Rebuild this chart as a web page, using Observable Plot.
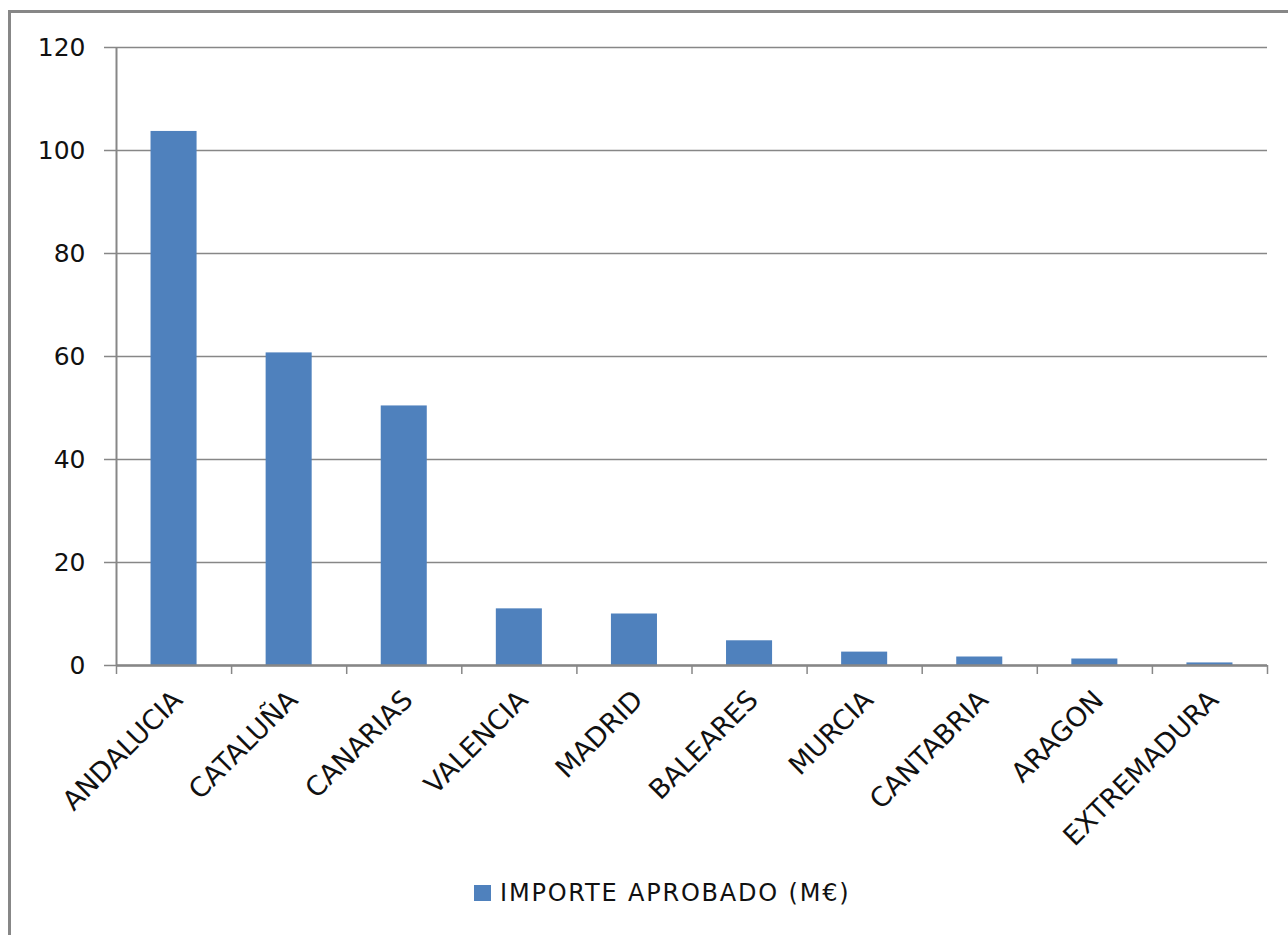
<!DOCTYPE html>
<html>
<head>
<meta charset="utf-8">
<script src="https://cdn.jsdelivr.net/npm/d3@7"></script>
<script src="https://cdn.jsdelivr.net/npm/@observablehq/plot@0.6"></script>
<style>
  html, body { margin: 0; padding: 0; background: #fff; width: 1288px; height: 935px; overflow: hidden; }
  #frame { position: absolute; left: 8px; top: 10px; width: 1400px; height: 1000px;
           border-left: 3px solid #878787; border-top: 3px solid #878787; }
  #chart { position: absolute; left: 0; top: 0; }
  #legend { position: absolute; left: 474px; top: 879px; font-family: "DejaVu Sans", sans-serif;
            font-size: 24px; letter-spacing: 1.8px; color: #111; display: flex; align-items: center; white-space: nowrap; }
  #legend .sw { width: 17px; height: 16px; background: #4F81BD; margin-right: 9px; }
</style>
</head>
<body>
<div id="frame"></div>
<div id="chart"></div>
<div id="legend"><span class="sw"></span><span id="legtext"></span></div>
<script>
const categories = ["ANDALUCIA", "CATALUÑA", "CANARIAS", "VALENCIA", "MADRID", "BALEARES", "MURCIA", "CANTABRIA", "ARAGON", "EXTREMADURA"];
const values = [103.7, 60.7, 50.4, 11.0, 10.0, 4.8, 2.6, 1.65, 1.26, 0.5];
const yTicks = [0, 20, 40, 60, 80, 100, 120];
const seriesName = "IMPORTE APROBADO (M€)";

const data = categories.map((c, i) => ({cat: c, i, value: values[i]}));
const barColor = "#4F81BD";
const gray = "#878787";

const chart = Plot.plot({
  width: 1288,
  height: 875,
  marginLeft: 116,
  marginRight: 21,
  marginTop: 47,
  marginBottom: 210,
  style: {fontFamily: "DejaVu Sans, sans-serif", background: "transparent", color: "#111"},
  x: {type: "linear", domain: [0, categories.length], axis: null},
  y: {domain: [0, 120], axis: null},
  marks: [
    Plot.gridY(yTicks, {stroke: gray, strokeOpacity: 1, strokeWidth: 1.5}),
    Plot.axisY(yTicks, {tickSize: 12, tickPadding: 19, stroke: gray, strokeWidth: 1.5, fontSize: 25, fill: "#111", label: null}),
    Plot.rectY(data, {x1: d => d.i + 0.3, x2: d => d.i + 0.7, y1: 0, y2: "value", fill: barColor}),
    Plot.ruleX([0], {stroke: gray, strokeWidth: 2}),
    Plot.ruleY([0], {stroke: gray, strokeWidth: 2.5}),
    Plot.axisX(d3.range(categories.length + 1), {tickSize: 9, tickFormat: () => "", stroke: gray, strokeWidth: 1.5, label: null}),
    Plot.text(data, {x: d => d.i + 0.5, y: 0, text: "cat", rotate: -45, textAnchor: "end", lineAnchor: "middle",
                     dx: 4, dy: 30, fontSize: 27, fill: "#111"})
  ]
});
document.getElementById("chart").appendChild(chart);
document.getElementById("legtext").textContent = seriesName;
</script>
</body>
</html>
